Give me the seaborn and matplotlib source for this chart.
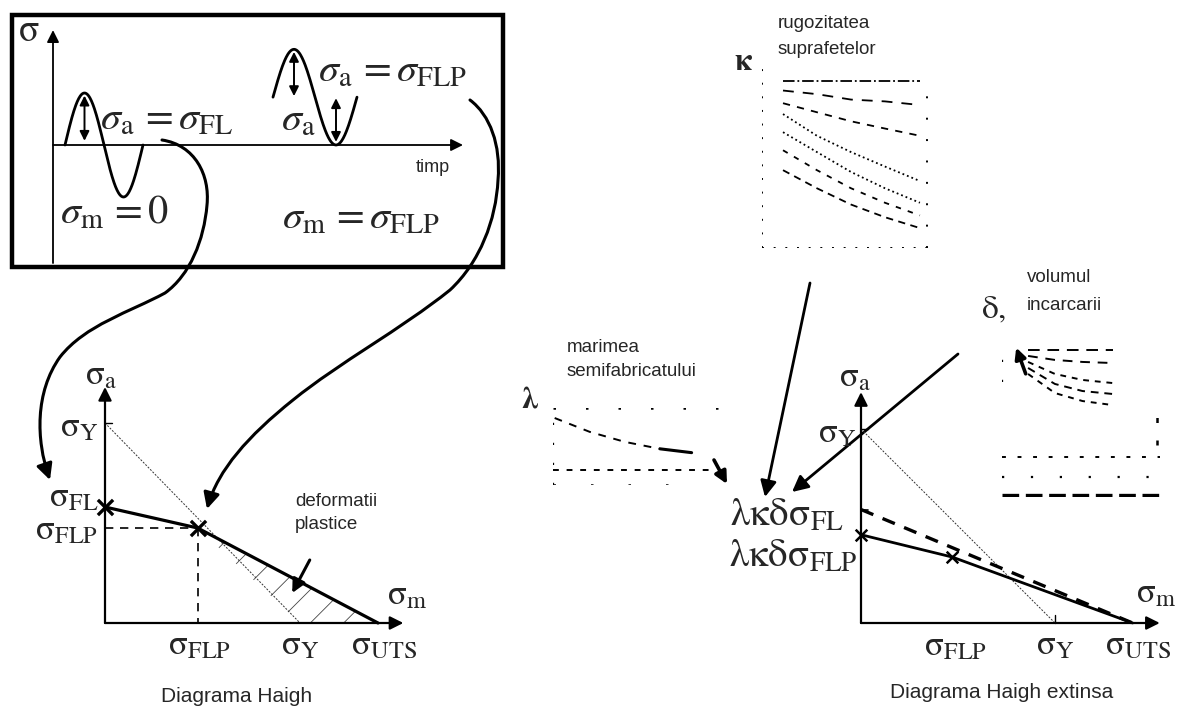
import numpy as np
import matplotlib
matplotlib.use("Agg")
import matplotlib.pyplot as plt
import seaborn as sns
from matplotlib.patches import Rectangle, FancyArrowPatch, Polygon
from matplotlib.path import Path

sns.set_theme(style="white")
plt.rcParams["font.family"] = ["Liberation Sans", "DejaVu Sans"]
plt.rcParams["mathtext.fontset"] = "stix"
plt.rcParams["hatch.linewidth"] = 0.6

# ---- Haigh diagram values (in units of sigma_Y) ----
sigma_Y = 1.0
sigma_UTS = 1.40
sigma_FL = 0.58
sigma_FLP = 0.475
haigh_m = [0.0, sigma_FLP, sigma_UTS]
haigh_a = [sigma_FL, sigma_FLP, 0.0]

# extended diagram: reduced limits
ext_FL = 0.585
ext_m = [0.0, 0.47, sigma_UTS]
ext_a = [0.455, 0.34, 0.0]

# ---- cyclic loading signals ----
wave1_start, wave1_period, wave1_amp, wave1_mean = 0.12, 0.78, 1.0, 0.0
wave2_start, wave2_period, wave2_amp, wave2_mean = 2.20, 0.84, 0.92, 0.92

# ---- correction factor charts (relative coordinates) ----
kappa_x = [0.125, 0.327, 0.53, 0.732, 0.94]
kappa_curves = [
    [0.92, 0.92, 0.92, 0.92, 0.92],
    [0.87, 0.85, 0.82, 0.81, 0.79],
    [0.80, 0.75, 0.70, 0.66, 0.62],
    [0.74, 0.62, 0.53, 0.45, 0.37],
    [0.64, 0.53, 0.42, 0.33, 0.25],
    [0.54, 0.43, 0.33, 0.25, 0.18],
    [0.43, 0.33, 0.24, 0.17, 0.11],
]
kappa_styles = ["-.", (0, (6, 5)), (0, (4, 4)), ":", ":", (0, (3, 4)), (0, (4, 3))]

lambda_x = [0.01, 0.22, 0.43, 0.64, 0.83]
lambda_y = [0.87, 0.69, 0.56, 0.47, 0.42]

delta_x = [0.165, 0.335, 0.51, 0.70]
delta_curves = [
    [0.955, 0.955, 0.955, 0.955],
    [0.916, 0.890, 0.877, 0.870],
    [0.877, 0.799, 0.760, 0.740],
    [0.838, 0.734, 0.688, 0.669],
    [0.799, 0.675, 0.623, 0.597],
]
delta_styles = [(0, (6, 4)), (0, (5, 4)), (0, (3, 3)), (0, (4, 3)), (0, (3, 3))]

W, H = 1180, 711
fig = plt.figure(figsize=(W / 100, H / 100), dpi=100)
ax0 = fig.add_axes([0, 0, 1, 1])
ax0.set_xlim(0, W)
ax0.set_ylim(H, 0)
ax0.axis("off")


def px_axes(box, origin, scale):
    x0, y0, x1, y1 = box
    ox, oy = origin
    sx, sy = scale
    ax = fig.add_axes([x0 / W, 1 - y1 / H, (x1 - x0) / W, (y1 - y0) / H])
    ax.axis("off")
    lims = ((x0 - ox) / sx, (x1 - ox) / sx), ((oy - y1) / sy, (oy - y0) / sy)
    return ax, lims


def finish(ax, lims):
    ax.set_xlim(*lims[0])
    ax.set_ylim(*lims[1])
    ax.axis("off")


def axis_arrow(ax, start, end, lw=1.6, ms=20):
    ax.annotate("", xy=end, xytext=start,
                arrowprops=dict(arrowstyle="-|>", lw=lw, color="black",
                                mutation_scale=ms, shrinkA=0, shrinkB=0))


def line(ax, x, y, **kw):
    kw.setdefault("color", "black")
    sns.lineplot(x=x, y=y, ax=ax, sort=False, estimator=None, **kw)


# ================= top box: signals in time =================
ax0.add_patch(Rectangle((12, 15), 491, 252, fill=False, lw=3.2, ec="black"))
axt, limt = px_axes((12, 15, 503, 267), (53, 145), (100, 52))
axis_arrow(axt, (0, -2.27), (0, 2.21), lw=1.3, ms=18)
axis_arrow(axt, (0, 0), (4.10, 0), lw=1.3, ms=18)

for start, period, amp, mean in [(wave1_start, wave1_period, wave1_amp, wave1_mean),
                                  (wave2_start, wave2_period, wave2_amp, wave2_mean)]:
    t = np.linspace(start, start + period, 160)
    s = mean + amp * np.sin(2 * np.pi * (t - start) / period)
    line(axt, t, s, lw=2.0)

dbl = dict(arrowstyle="<|-|>", lw=1.4, color="black", mutation_scale=14, shrinkA=0, shrinkB=0)
tp1 = wave1_start + wave1_period / 4
axt.annotate("", xy=(tp1, wave1_mean + wave1_amp - 0.05), xytext=(tp1, wave1_mean + 0.08), arrowprops=dbl)
tp2 = wave2_start + wave2_period / 4
axt.annotate("", xy=(tp2, wave2_mean + wave2_amp - 0.05), xytext=(tp2, wave2_mean + 0.02), arrowprops=dbl)
tt2 = wave2_start + 3 * wave2_period / 4
axt.annotate("", xy=(tt2, wave2_mean - 0.02), xytext=(tt2, wave2_mean - wave2_amp + 0.06), arrowprops=dbl)
finish(axt, limt)

box_fs = 29
ax0.text(29, 31, r"$\mathrm{\sigma}$", fontsize=27, ha="center", va="center")
ax0.text(100, 119, r"$\sigma_{\mathrm{a}}\,=\sigma_{\mathrm{FL}}$", fontsize=box_fs, ha="left", va="center")
ax0.text(318, 71, r"$\sigma_{\mathrm{a}}\,=\sigma_{\mathrm{FLP}}$", fontsize=box_fs, ha="left", va="center")
ax0.text(281, 120, r"$\sigma_{\mathrm{a}}$", fontsize=box_fs, ha="left", va="center")
ax0.text(60, 213, r"$\sigma_{\mathrm{m}}\,=0$", fontsize=box_fs, ha="left", va="center")
ax0.text(282, 218, r"$\sigma_{\mathrm{m}}\,=\sigma_{\mathrm{FLP}}$", fontsize=box_fs, ha="left", va="center")
ax0.text(433, 167, "timp", fontsize=13, ha="center", va="center")

# ================= left: Haigh diagram =================
axl, liml = px_axes((20, 360, 440, 680), (105, 623), (195, 200))
axis_arrow(axl, (0, 0), (0, 1.18))
axis_arrow(axl, (0, 0), (1.53, 0))
hatch_poly = Polygon([(sigma_FLP, sigma_FLP), (sigma_Y, 0), (sigma_UTS, 0)], closed=True,
                     fill=False, hatch="/", lw=0, ec="#444444")
axl.add_patch(hatch_poly)
line(axl, [0, sigma_Y], [sigma_Y, 0], lw=0.7, linestyle=(0, (2, 1.5)), color="#333333")
line(axl, haigh_m, haigh_a, lw=2.3)
line(axl, [0, sigma_FLP], [sigma_FLP, sigma_FLP], lw=1.2, linestyle=(0, (5, 4)))
line(axl, [sigma_FLP, sigma_FLP], [sigma_FLP, 0], lw=1.2, linestyle=(0, (5, 4)))
line(axl, [0, 0.035], [sigma_Y, sigma_Y], lw=1.0)
sns.scatterplot(x=haigh_m[:2], y=haigh_a[:2], ax=axl, marker="x", s=120, color="black", linewidth=2.4, zorder=5)

lab_fs = 25
def sig(sub):
    return r"$\mathrm{\sigma}_{\mathrm{" + sub + "}}$"

axl.text(-0.02, 1.24, sig("a"), fontsize=lab_fs, ha="center", va="center")
axl.text(-0.035, sigma_Y - 0.02, sig("Y"), fontsize=lab_fs, ha="right", va="center")
axl.text(-0.035, sigma_FL + 0.05, sig("FL"), fontsize=lab_fs, ha="right", va="center")
axl.text(-0.035, sigma_FLP - 0.01, sig("FLP"), fontsize=lab_fs, ha="right", va="center")
axl.text(sigma_FLP + 0.01, -0.11, sig("FLP"), fontsize=lab_fs, ha="center", va="center")
axl.text(sigma_Y, -0.11, sig("Y"), fontsize=lab_fs, ha="center", va="center")
axl.text(sigma_UTS + 0.03, -0.11, sig("UTS"), fontsize=lab_fs, ha="center", va="center")
axl.text(1.55, 0.14, sig("m"), fontsize=lab_fs, ha="center", va="center")
axl.text(0.975, 0.55, "deformatii\nplastice", fontsize=13.5, ha="left", va="center", linespacing=1.45)
axl.annotate("", xy=(0.96, 0.15), xytext=(1.05, 0.315),
             arrowprops=dict(arrowstyle="-|>", lw=2.2, color="black", mutation_scale=20, shrinkA=0, shrinkB=0))
finish(axl, liml)
ax0.text(237, 697, "Diagrama Haigh", fontsize=15, ha="center", va="center")

# ================= right: extended Haigh diagram =================
axr, limr = px_axes((680, 360, 1180, 680), (861, 623), (194, 194))
axis_arrow(axr, (0, 0), (0, 1.19))
axis_arrow(axr, (0, 0), (1.54, 0))
line(axr, [0, sigma_Y], [sigma_Y, 0], lw=0.7, linestyle=(0, (2, 1.5)), color="#333333")
line(axr, [0, sigma_UTS], [ext_FL, 0], lw=2.4, linestyle=(0, (4, 3)))
line(axr, ext_m, ext_a, lw=2.0)
line(axr, [0, 0.035], [ext_FL, ext_FL], lw=1.2)
line(axr, [0, 0.035], [sigma_Y, sigma_Y], lw=1.0)
line(axr, [sigma_Y, sigma_Y], [0, 0.04], lw=1.0)
sns.scatterplot(x=ext_m[:2], y=ext_a[:2], ax=axr, marker="x", s=70, color="black", linewidth=1.8, zorder=5)

axr.text(-0.03, 1.27, sig("a"), fontsize=lab_fs, ha="center", va="center")
axr.text(-0.025, sigma_Y - 0.02, sig("Y"), fontsize=lab_fs, ha="right", va="center")
axr.text(-0.09, 0.55, r"$\mathrm{\lambda\kappa\delta\sigma}_{\mathrm{FL}}$", fontsize=28, ha="right", va="center")
axr.text(-0.02, 0.34, r"$\mathrm{\lambda\kappa\delta\sigma}_{\mathrm{FLP}}$", fontsize=28, ha="right", va="center")
axr.text(0.485, -0.115, sig("FLP"), fontsize=lab_fs, ha="center", va="center")
axr.text(sigma_Y, -0.11, sig("Y"), fontsize=lab_fs, ha="center", va="center")
axr.text(1.26, -0.11, sig("UTS"), fontsize=lab_fs, ha="left", va="center")
axr.text(1.42, 0.155, sig("m"), fontsize=lab_fs, ha="left", va="center")
finish(axr, limr)
ax0.text(1002, 692, "Diagrama Haigh extinsa", fontsize=15, ha="center", va="center")

# ================= surface roughness factor chart =================
axk = fig.add_axes([762 / W, 1 - 248 / H, 168 / W, 181 / H])
for ys, ls in zip(kappa_curves, kappa_styles):
    line(axk, kappa_x, ys, lw=1.3, linestyle=ls)
line(axk, [0.0, 0.0], [0.0, 1.0], lw=1.4, linestyle=(0, (1, 6)))
line(axk, [0.0, 1.0], [0.0, 0.0], lw=1.4, linestyle=(0, (1, 5)))
line(axk, [0.98, 0.98], [0.0, 0.92], lw=1.4, linestyle=(0, (1, 10)))
line(axk, [0.2, 1.0], [-0.08, -0.08], lw=2.0, linestyle=(0, (2, 9)))
axk.set_xlim(0, 1)
axk.set_ylim(0, 1)
axk.axis("off")
ax0.text(743, 62, r"$\mathbf{\kappa}$", fontsize=22, ha="center", va="center")
ax0.text(778, 23, "rugozitatea", fontsize=13.5, ha="left", va="center")
ax0.text(778, 50, "suprafetelor", fontsize=13.5, ha="left", va="center")

# ================= size factor chart =================
axla = fig.add_axes([553 / W, 1 - 485 / H, 167 / W, 77 / H])
line(axla, lambda_x[:-1], lambda_y[:-1], lw=1.4, linestyle=(0, (4, 4)))
line(axla, lambda_x[-2:], lambda_y[-2:], lw=2.2)
line(axla, [0.0, 0.96], [0.195, 0.195], lw=1.4, linestyle=(0, (3, 4)))
line(axla, [0.0, 1.0], [1.0, 1.0], lw=1.8, linestyle=(0, (1, 12)))
line(axla, [0.0, 0.0], [0.0, 1.0], lw=1.6, linestyle=(0, (1, 8)))
line(axla, [0.0, 0.9], [0.0, 0.0], lw=1.8, linestyle=(0, (1, 14)))
axla.set_xlim(0, 1)
axla.set_ylim(0, 1)
axla.axis("off")
ax0.text(530, 400, r"$\mathbf{\lambda}$", fontsize=22, ha="center", va="center")
ax0.text(567, 347, "marimea", fontsize=13.5, ha="left", va="center")
ax0.text(567, 372, "semifabricatului", fontsize=13.5, ha="left", va="center")

# ================= loaded volume factor chart =================
axd = fig.add_axes([1002 / W, 1 - 497 / H, 158 / W, 154 / H])
for ys, ls in zip(delta_curves, delta_styles):
    line(axd, delta_x, ys, lw=1.4, linestyle=ls)
line(axd, [0.0, 0.0], [0.75, 1.0], lw=1.6, linestyle=(0, (1, 8)))
line(axd, [0.98, 0.98], [0.34, 0.57], lw=1.8, linestyle=(0, (2, 7)))
line(axd, [0.0, 1.0], [0.26, 0.26], lw=1.4, linestyle=(0, (2, 6)))
line(axd, [0.0, 1.0], [0.13, 0.13], lw=1.6, linestyle=(0, (1, 12)))
line(axd, [0.0, 1.0], [0.013, 0.013], lw=2.4, linestyle=(0, (5, 2)))
axd.annotate("", xy=(0.09, 0.97), xytext=(0.15, 0.80),
             arrowprops=dict(arrowstyle="-|>", lw=2.6, color="black", mutation_scale=16, shrinkA=0, shrinkB=0))
axd.set_xlim(0, 1)
axd.set_ylim(0, 1)
axd.axis("off")
ax0.text(994, 310, r"$\mathrm{\delta},$", fontsize=24, ha="center", va="center")
ax0.text(1027, 278, "volumul", fontsize=13.5, ha="left", va="center")
ax0.text(1027, 305, "incarcarii", fontsize=13.5, ha="left", va="center")

# ================= connecting arrows =================
big = dict(arrowstyle="-|>", lw=2.0, color="black", mutation_scale=24, shrinkA=0, shrinkB=0)
ax0.annotate("", xy=(765, 497), xytext=(810, 283), arrowprops=big)
ax0.annotate("", xy=(792, 492), xytext=(958, 354), arrowprops=big)
ax0.annotate("", xy=(727, 484), xytext=(714, 460), arrowprops=dict(big, lw=2.6, mutation_scale=18))

C4 = Path.CURVE4
curve1 = Path([(162, 140), (195, 145), (210, 175), (207, 205),
               (204, 240), (190, 275), (165, 293),
               (130, 312), (85, 325), (60, 357),
               (35, 392), (36, 440), (50, 480)],
              [Path.MOVETO] + [C4] * 12)
curve2 = Path([(470, 100), (490, 115), (501, 145), (498, 180),
               (496, 220), (480, 262), (450, 290),
               (400, 330), (340, 362), (293, 400),
               (248, 436), (218, 470), (207, 509)],
              [Path.MOVETO] + [C4] * 12)
for p in (curve1, curve2):
    ax0.add_patch(FancyArrowPatch(path=p, arrowstyle="-|>", lw=2.2, color="black",
                                  mutation_scale=24, shrinkA=0, shrinkB=0))

fig.savefig("out.png", dpi=100, facecolor="white")
